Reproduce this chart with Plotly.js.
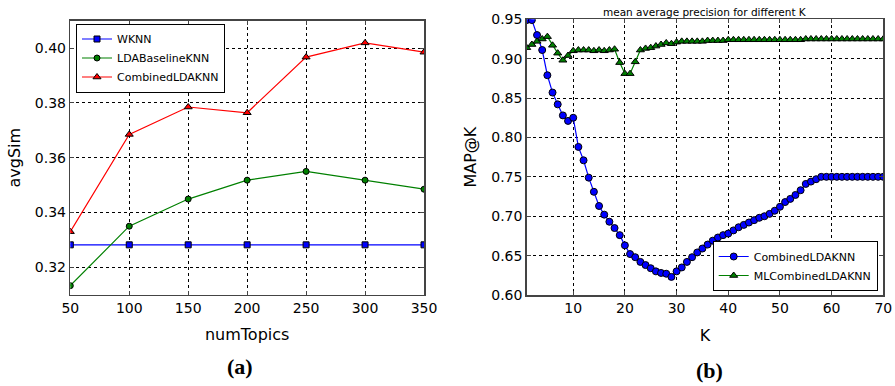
<!DOCTYPE html>
<html>
<head>
<meta charset="utf-8">
<script src="https://cdn.plot.ly/plotly-3.0.1.min.js"></script>
<style>html,body{margin:0;padding:0;background:#fff;}#chart{width:895px;height:386px;}</style>
</head>
<body>
<div id="chart"></div>
<script>
// ---- data, chart (a) ----
const numTopics = [50, 100, 150, 200, 250, 300, 350];
const wknn = [0.3282, 0.3282, 0.3282, 0.3282, 0.3282, 0.3282, 0.3282];
const ldaBaselineKNN = [0.3133, 0.3350, 0.3449, 0.3518, 0.3550, 0.3518, 0.3485];
const combinedLDAKNN_a = [0.3330, 0.3685, 0.3785, 0.3764, 0.3967, 0.4019, 0.3985];

// ---- data, chart (b) ----
const K = [1,2,3,4,5,6,7,8,9,10,11,12,13,14,15,16,17,18,19,20,21,22,23,24,25,26,27,28,29,30,
           31,32,33,34,35,36,37,38,39,40,41,42,43,44,45,46,47,48,49,50,51,52,53,54,55,56,57,58,59,60,
           61,62,63,64,65,66,67,68,69,70];
const combinedLDAKNN_b = [0.949,0.949,0.930,0.911,0.879,0.857,0.842,0.828,0.821,0.825,
                          0.788,0.771,0.749,0.731,0.713,0.702,0.693,0.685,0.676,0.663,
                          0.652,0.648,0.642,0.638,0.634,0.630,0.628,0.627,0.623,0.630,
                          0.635,0.642,0.648,0.654,0.659,0.664,0.669,0.673,0.676,0.678,
                          0.682,0.686,0.689,0.692,0.695,0.698,0.700,0.703,0.707,0.712,
                          0.718,0.722,0.727,0.733,0.741,0.744,0.747,0.750,0.750,0.750,
                          0.750,0.750,0.750,0.750,0.750,0.750,0.750,0.750,0.750,0.750];
const mlCombinedLDAKNN = [0.914,0.918,0.922,0.925,0.928,0.917,0.907,0.898,0.904,0.910,
                          0.911,0.911,0.911,0.910,0.911,0.910,0.911,0.912,0.895,0.881,
                          0.881,0.896,0.911,0.913,0.914,0.916,0.918,0.920,0.919,0.921,
                          0.922,0.922,0.922,0.922,0.922,0.923,0.923,0.923,0.923,0.924,
                          0.924,0.924,0.924,0.924,0.924,0.924,0.924,0.924,0.924,0.924,
                          0.924,0.924,0.924,0.924,0.925,0.925,0.925,0.925,0.925,0.925,
                          0.925,0.925,0.925,0.925,0.925,0.925,0.925,0.925,0.925,0.925];

const yTicksA = [0.32, 0.34, 0.36, 0.38, 0.40];
const yTicksB = [0.60, 0.65, 0.70, 0.75, 0.80, 0.85, 0.90, 0.95];
const xTicksB = [10, 20, 30, 40, 50, 60, 70];

const W = 895, H = 386;
const FONT = 'DejaVu Sans, sans-serif';
const outline = {color: '#000', width: 1};

const traces = [
  {x: numTopics, y: wknn, name: 'WKNN', type: 'scatter', mode: 'lines+markers',
   xaxis: 'x', yaxis: 'y', legend: 'legend',
   line: {color: '#0000ff', width: 1.2},
   marker: {symbol: 'square', size: 6, color: '#0000ff', line: outline}},
  {x: numTopics, y: ldaBaselineKNN, name: 'LDABaselineKNN', type: 'scatter', mode: 'lines+markers',
   xaxis: 'x', yaxis: 'y', legend: 'legend',
   line: {color: '#008000', width: 1.2},
   marker: {symbol: 'circle', size: 6, color: '#008000', line: outline}},
  {x: numTopics, y: combinedLDAKNN_a, name: 'CombinedLDAKNN', type: 'scatter', mode: 'lines+markers',
   xaxis: 'x', yaxis: 'y', legend: 'legend',
   line: {color: '#ff0000', width: 1.2},
   marker: {symbol: 'triangle-up', size: 7, color: '#ff0000', line: outline}},
  {x: K, y: combinedLDAKNN_b, name: 'CombinedLDAKNN', type: 'scatter', mode: 'lines+markers',
   xaxis: 'x2', yaxis: 'y2', legend: 'legend2',
   line: {color: '#0000ff', width: 1.2},
   marker: {symbol: 'circle', size: 7, color: '#0000ff', line: outline}},
  {x: K, y: mlCombinedLDAKNN, name: 'MLCombinedLDAKNN', type: 'scatter', mode: 'lines+markers',
   xaxis: 'x2', yaxis: 'y2', legend: 'legend2',
   line: {color: '#008000', width: 1.2},
   marker: {symbol: 'triangle-up', size: 7, color: '#008000', line: outline}}
];

function axisBase() {
  return {
    showline: true, mirror: 'ticks', linecolor: '#444', linewidth: 1.5,
    ticks: 'inside', ticklen: 4, tickcolor: '#444',
    showgrid: true, gridcolor: '#000', griddash: 'dot', gridwidth: 1,
    zeroline: false, tickfont: {family: FONT, size: 14, color: '#000'},
    title: {font: {family: FONT, size: 16, color: '#000'}}
  };
}

const layout = {
  width: W, height: H,
  margin: {l: 0, r: 0, t: 0, b: 0},
  paper_bgcolor: '#fff', plot_bgcolor: '#fff',
  font: {family: FONT, color: '#000'},
  xaxis: Object.assign(axisBase(), {
    domain: [70.3 / W, 424 / W], range: [50, 350], tickmode: 'array', tickvals: numTopics,
    anchor: 'y', title: {text: 'numTopics', standoff: 14, font: {family: FONT, size: 16, color: '#000'}}
  }),
  yaxis: Object.assign(axisBase(), {
    domain: [1 - 294.7 / H, 1 - 20.7 / H], range: [0.31, 0.41], tickmode: 'array', tickvals: yTicksA,
    tickformat: '.2f', anchor: 'x',
    title: {text: 'avgSim', standoff: 10, font: {family: FONT, size: 16, color: '#000'}}
  }),
  xaxis2: Object.assign(axisBase(), {
    domain: [526.7 / W, 883.3 / W], range: [1, 70], tickmode: 'array', tickvals: xTicksB,
    anchor: 'y2', title: {text: 'K', standoff: 14, font: {family: FONT, size: 16, color: '#000'}}
  }),
  yaxis2: Object.assign(axisBase(), {
    domain: [1 - 295 / H, 1 - 19.3 / H], range: [0.60, 0.95], tickmode: 'array', tickvals: yTicksB,
    tickformat: '.2f', anchor: 'x2',
    title: {text: 'MAP@K', standoff: 10, font: {family: FONT, size: 16, color: '#000'}}
  }),
  legend: {
    x: 76 / W, y: 1 - 23.5 / H, xanchor: 'left', yanchor: 'top',
    bgcolor: '#fff', bordercolor: '#000', borderwidth: 1,
    font: {family: FONT, size: 11, color: '#000'}, tracegroupgap: 0
  },
  legend2: {
    x: 877.7 / W, y: 1 - 291 / H, xanchor: 'right', yanchor: 'bottom',
    bgcolor: '#fff', bordercolor: '#000', borderwidth: 1,
    font: {family: FONT, size: 11, color: '#000'}, tracegroupgap: 0
  },
  annotations: [
    {text: 'mean average precision for different K', xref: 'paper', yref: 'paper',
     x: 705 / W, y: 1 - 11.7 / H, xanchor: 'center', yanchor: 'middle', showarrow: false,
     font: {family: FONT, size: 10.5, color: '#000'}},
    {text: '<b>(a)</b>', xref: 'paper', yref: 'paper', x: 240 / W, y: 1 - 366.7 / H,
     xanchor: 'center', yanchor: 'middle', showarrow: false,
     font: {family: 'Liberation Serif, Times New Roman, serif', size: 22, color: '#000'}},
    {text: '<b>(b)</b>', xref: 'paper', yref: 'paper', x: 709 / W, y: 1 - 370 / H,
     xanchor: 'center', yanchor: 'middle', showarrow: false,
     font: {family: 'Liberation Serif, Times New Roman, serif', size: 22, color: '#000'}}
  ]
};

Plotly.newPlot('chart', traces, layout, {displayModeBar: false, staticPlot: true});
</script>
</body>
</html>
